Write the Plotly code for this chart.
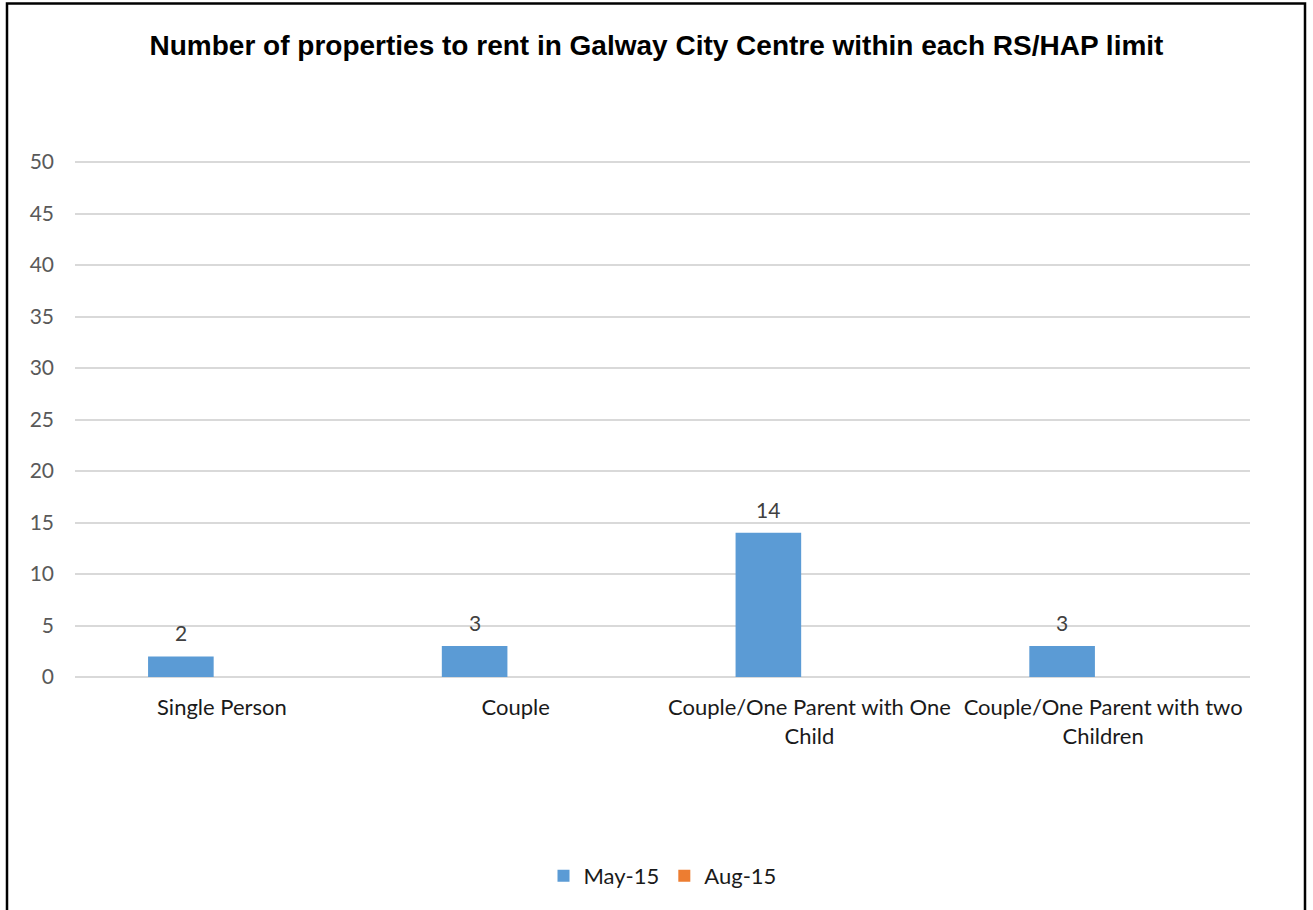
import plotly.graph_objects as go

categories = ["Single Person", "Couple", "Couple/One Parent with One<br>Child",
              "Couple/One Parent with two<br>Children"]
may_15 = [2, 3, 14, 3]
aug_15 = [None, None, None, None]
y_ticks = [0, 5, 10, 15, 20, 25, 30, 35, 40, 45, 50]

W, H = 1313, 910
ML, MR, MT, MB = 75, 63, 160, 233
pw, ph = W - ML - MR, H - MT - MB
y_top = 50 / (1 - 2 / ph)  # small headroom so the 50 gridline is drawn

fig = go.Figure()
fig.add_trace(go.Bar(name="May-15", x=categories, y=may_15, marker_color="#5B9BD5",
                     marker_line_width=0))
fig.add_trace(go.Bar(name="Aug-15", x=categories, y=aug_15, marker_color="#ED7D31",
                     marker_line_width=0))

# data labels for May-15 bars
for c, v in zip(categories, may_15):
    if v is not None:
        fig.add_annotation(x=c, y=v, text=str(v), showarrow=False, yanchor="bottom",
                           xshift=-41, yshift=9,
                           font=dict(family="Lato, sans-serif", size=21, color="#404040"))

def px_x(p):
    return (p - ML) / pw

def px_y(p):
    return (H - MB - p) / ph

fig.add_shape(type="rect", xref="paper", yref="paper",
              x0=px_x(7), x1=px_x(1305), y0=px_y(915), y1=px_y(3.5),
              line=dict(color="#000000", width=2.5), fillcolor="rgba(0,0,0,0)", layer="above")

fig.update_layout(
    width=W, height=H,
    margin=dict(l=ML, r=MR, t=MT, b=MB),
    paper_bgcolor="white", plot_bgcolor="white",
    barmode="group", bargap=0.4417, bargroupgap=0.2,
    title=dict(text="<b>Number of properties to rent in Galway City Centre within each RS/HAP limit</b>",
               x=0.5, xref="container", xanchor="center",
               y=1 - 45 / H, yref="container", yanchor="middle",
               font=dict(family="Liberation Sans, Arial, sans-serif", size=28, color="#000000")),
    xaxis=dict(showgrid=False, showline=False, zeroline=False, ticks="",
               tickfont=dict(family="Lato, sans-serif", size=22, color="#1a1a1a"),
               ticklabelstandoff=15),
    yaxis=dict(range=[0, y_top], tickvals=y_ticks, showgrid=True, gridcolor="#D9D9D9",
               gridwidth=1.5, zeroline=True, zerolinecolor="#D9D9D9", zerolinewidth=1.5,
               showline=False, ticks="",
               tickfont=dict(family="Lato, sans-serif", size=21, color="#595959"),
               ticklabelstandoff=20),
    legend=dict(orientation="h", x=0.5, xanchor="center", y=px_y(876), yanchor="middle",
                font=dict(family="Lato, sans-serif", size=22, color="#1a1a1a"),
                itemwidth=30, traceorder="normal"),
    showlegend=True,
)

fig.write_html("out.html")
